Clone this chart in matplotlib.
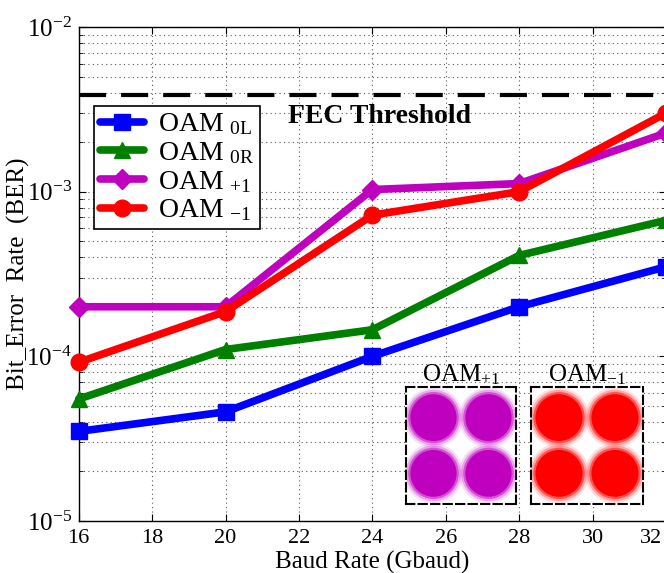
import matplotlib
matplotlib.use("Agg")
import matplotlib.pyplot as plt
from matplotlib.patches import Circle
from matplotlib.transforms import ScaledTranslation

# ---- data ----
baud = [16, 20, 24, 28, 32]
ber_0L = [3.5e-5, 4.6e-5, 1.0e-4, 2.0e-4, 3.5e-4]
ber_0R = [5.5e-5, 1.1e-4, 1.45e-4, 4.1e-4, 6.7e-4]
ber_p1 = [2.0e-4, 2.0e-4, 1.03e-3, 1.12e-3, 2.27e-3]
ber_m1 = [9.2e-5, 1.87e-4, 7.2e-4, 1.0e-3, 3.0e-3]
fec_threshold = 3.85e-3
xticks = [16, 18, 20, 22, 24, 26, 28, 30, 32]
labels = ['OAM $_{\\mathrm{0L}}$', 'OAM $_{\\mathrm{0R}}$', 'OAM $_{\\mathrm{+1}}$', 'OAM $_{\\mathrm{-1}}$']
# constellation cluster centres (QPSK)
cluster_x = [-1, 1, -1, 1]
cluster_y = [1, 1, -1, -1]

plt.rcParams['font.family'] = ['Liberation Serif', 'DejaVu Serif']
plt.rcParams['mathtext.fontset'] = 'custom'
plt.rcParams['mathtext.rm'] = 'Liberation Serif'
plt.rcParams['mathtext.it'] = 'Liberation Serif:italic'
plt.rcParams['mathtext.bf'] = 'Liberation Serif:bold'

W, H = 664, 573
fig = plt.figure(figsize=(W / 100, H / 100), dpi=100)
ax = fig.add_axes([78.7 / W, (H - 521) / H, (666 - 78.7) / W, (521 - 27) / H])

colors = ['#0000ff', '#008000', '#bf00bf', '#ff0000']
markers = ['s', '^', 'D', 'o']
msizes = [11, 12, 10, 12]
series = [ber_0L, ber_0R, ber_p1, ber_m1]
handles = []
for s, c, m, ms, lab in zip(series, colors, markers, msizes, labels):
    h, = ax.plot(baud, s, color=c, marker=m, markersize=ms, lw=5.5, label=lab,
                 solid_capstyle='round', solid_joinstyle='round', clip_on=False, zorder=5)
    handles.append(h)

ax.axhline(fec_threshold, color='black', lw=3, linestyle=(0, (6.5, 3.6)), zorder=4)
ax.text(21.7, 2.88e-3, 'FEC Threshold', fontsize=20, fontweight='bold', va='center', ha='left', zorder=6)

ax.set_yscale('log')
ax.set_ylim(1e-5, 1e-2)
ax.set_xlim(16, 32)
ax.set_xticks(xticks)
ax.set_xticklabels([str(t) for t in xticks])
ax.tick_params(axis='both', which='both', direction='in', top=True, right=True)
ax.tick_params(axis='x', labelsize=16, pad=6, length=5)
ax.tick_params(axis='y', labelsize=18, pad=5, length=5)
ax.tick_params(axis='y', which='minor', length=3)
ax.grid(True, which='major', axis='x', linestyle=(0, (1, 3)), color='0.35', lw=0.8)
ax.grid(True, which='both', axis='y', linestyle=(0, (1, 3)), color='0.35', lw=0.8)
for sp in ax.spines.values():
    sp.set_linewidth(1.0)

# shift the last x tick label into view (as in the reference)
last = ax.get_xticklabels()[-1]
last.set_transform(last.get_transform() + ScaledTranslation(-15 / 100, 0, fig.dpi_scale_trans))

ax.set_xlabel('Baud Rate (Gbaud)', fontsize=18, va='center')
ax.xaxis.set_label_coords(0.5, (521 - 562) / 494)
ax.set_ylabel('Bit_Error  Rate  (BER)', fontsize=18, va='center')
ax.yaxis.set_label_coords((18 - 78.7) / 587.3, 0.5)

leg = ax.legend(handles=handles, loc='upper left', bbox_to_anchor=(94 / W, 1 - 106 / H),
                bbox_transform=fig.transFigure, borderaxespad=0, fontsize=20,
                fancybox=False, edgecolor='black', framealpha=1, handlelength=1.6,
                handletextpad=0.5, labelspacing=0.1, borderpad=0.2)
leg.get_frame().set_linewidth(1.2)
leg.set_zorder(10)

# constellation insets
inset_boxes = [(406, 387, 110, 117), (531, 387, 112, 117)]
inset_titles = ['OAM$_{\\mathrm{+1}}$', 'OAM$_{\\mathrm{-1}}$']
inset_colors = ['#bf00bf', '#ff0000']
for (x0, y0, w, h), t, c in zip(inset_boxes, inset_titles, inset_colors):
    ia = fig.add_axes([x0 / W, (H - y0 - h) / H, w / W, h / H])
    ia.set_xlim(-2, 2)
    ia.set_ylim(-2.1, 2.1)
    ia.set_xticks([])
    ia.set_yticks([])
    for sp in ia.spines.values():
        sp.set_linestyle((0, (4, 2)))
        sp.set_linewidth(1.5)
    for cx, cy in zip(cluster_x, cluster_y):
        for r, a in [(1.08, 0.12), (1.0, 0.25), (0.92, 0.5), (0.84, 1.0)]:
            ia.add_patch(Circle((cx, cy), r, color=c, alpha=a, lw=0))
    ia.set_title(t, fontsize=18, pad=1)

fig.savefig('out.png', dpi=100)
